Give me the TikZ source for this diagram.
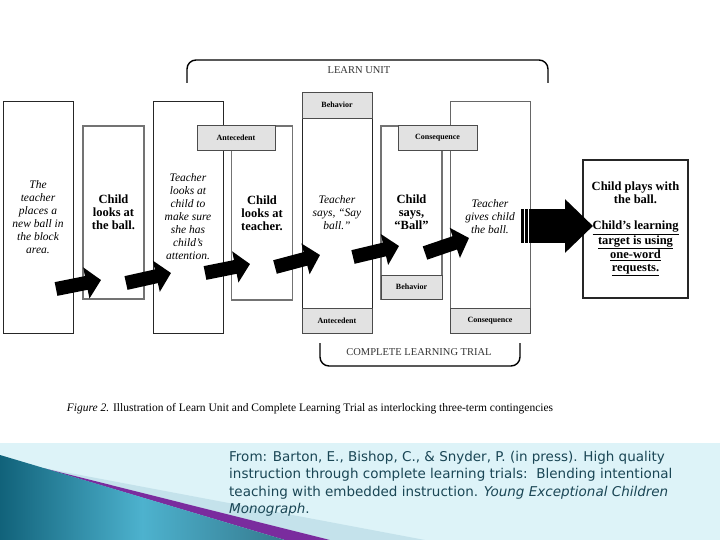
\documentclass[tikz,border=0pt]{standalone}
\usepackage{fontspec}
\setmainfont{Liberation Serif}
\newfontfamily\citefont{DejaVu Sans}
\usetikzlibrary{arrows.meta}
\definecolor{bandcyan}{HTML}{DDF3F8}
\definecolor{tealdark}{HTML}{11627A}
\definecolor{teallight}{HTML}{4DB2CE}
\definecolor{wedgeblue}{HTML}{C4E2EB}
\definecolor{stripepurple}{HTML}{7A2C9E}
\definecolor{labelgray}{HTML}{E2E2E2}
\definecolor{citeteal}{HTML}{1A4655}

\begin{document}
\begin{tikzpicture}[x=1pt, y=-1pt,
    teacherbox/.style={draw=black!85, line width=0.9pt, inner sep=0pt, align=center,
      font=\itshape\fontsize{11.5}{13}\selectfont},
    childbox/.style={draw=black!55, line width=1.1pt, inner sep=0pt, align=center,
      font=\bfseries\fontsize{12.5}{13}\selectfont},
    termlabel/.style={draw=black!70, fill=labelgray, line width=0.8pt, inner sep=0pt,
      font=\bfseries\fontsize{8}{9}\selectfont},
    blockarrow/.style={line width=14pt, -{Triangle[length=15pt, width=31pt]}},
    bracket/.style={line width=1.4pt, rounded corners=9pt},
    bracketlabel/.style={font=\fontsize{10.5}{12}\selectfont, text=black!80}
  ]
  \useasboundingbox (0,0) rectangle (720,540);
  % bottom band
  \fill[bandcyan] (0,443) rectangle (720,540);
  \fill[wedgeblue] (43,468) -- (425,540) -- (330,540) -- cycle;
  \fill[stripepurple] (43,468) -- (330,540) -- (285,540) -- cycle;
  \shade[left color=tealdark, right color=tealdark!85!white, middle color=teallight]
    (0,455) -- (285,540) -- (0,540) -- cycle;

  % boxes
  \node[teacherbox, minimum width=70pt, minimum height=232pt] (teacherPlaces) at (38,217)
    {The\\teacher\\places a\\new ball in\\the block\\area.};
  \node[childbox, minimum width=61pt, minimum height=173pt] (childBall) at (113.5,212.5)
    {Child\\looks at\\the ball.};
  \node[teacherbox, minimum width=70pt, minimum height=232pt] (teacherLooks) at (188,217)
    {Teacher\\looks at\\child to\\make sure\\she has\\child's\\attention.};
  \node[childbox, minimum width=61pt, minimum height=174pt] (childTeacher) at (262,213)
    {Child\\looks at\\teacher.};
  \node[teacherbox, minimum width=70pt, minimum height=241pt] (teacherSays) at (337,212.5)
    {Teacher\\says, ``Say\\ball.''};
  \node[childbox, minimum width=61pt, minimum height=173pt] (childSays) at (411.5,212.5)
    {Child\\says,\\``Ball''};
  \node[teacherbox, draw=black!60, minimum width=80pt, minimum height=232pt] (teacherGives) at (490,217)
    {Teacher\\gives child\\the ball.};
  \node[childbox, draw=black!85, line width=1.3pt, minimum width=105pt, minimum height=138pt] (childPlays) at (635.5,229)
    {Child plays with\\the ball.\\[13pt]\underline{Child's learning}\\\underline{target is using}\\
     \underline{one-word}\\\underline{requests.}};

  % term labels
  \node[termlabel, minimum width=78pt, minimum height=25pt] (antecedentTop) at (236,137.5) {Antecedent};
  \node[termlabel, minimum width=70pt, minimum height=26pt] (behaviorTop) at (337,105) {Behavior};
  \node[termlabel, minimum width=70pt, minimum height=25pt] (antecedentBottom) at (337,320.5) {Antecedent};
  \node[termlabel, minimum width=61pt, minimum height=24pt] (behaviorBottom) at (411.5,287) {Behavior};
  \node[termlabel, minimum width=79pt, minimum height=25pt] (consequenceTop) at (437.5,137.5) {Consequence};
  \node[termlabel, minimum width=80pt, minimum height=25pt] (consequenceBottom) at (490,320.5) {Consequence};

  % arrows between steps
  \coordinate (tailA) at (56,289);   \coordinate (tipA) at (101,280);
  \coordinate (tailB) at (126,283);  \coordinate (tipB) at (171,273);
  \coordinate (tailC) at (205,273);  \coordinate (tipC) at (250,264);
  \coordinate (tailD) at (275,267);  \coordinate (tipD) at (320,255);
  \coordinate (tailE) at (353,257);  \coordinate (tipE) at (399,246);
  \coordinate (tailF) at (425,253);  \coordinate (tipF) at (469,238);
  \draw[blockarrow] (tailA) -- (tipA);
  \draw[blockarrow] (tailB) -- (tipB);
  \draw[blockarrow] (tailC) -- (tipC);
  \draw[blockarrow] (tailD) -- (tipD);
  \draw[blockarrow] (tailE) -- (tipE);
  \draw[blockarrow] (tailF) -- (tipF);

  % big arrow to outcome
  \coordinate (bigTail) at (521,226);
  \coordinate (bigTip) at (593,226);
  \draw[line width=34pt, -{Triangle[length=28pt, width=52pt]}] (bigTail) -- (bigTip);
  \draw[white, line width=0.8pt] (524,209) -- (524,243);
  \draw[white, line width=0.8pt] (528,209) -- (528,243);

  % brackets
  \draw[bracket] (187,83) -- (187,60) -- (548,60) -- (548,83);
  \node[bracketlabel] (learnUnit) at (359,70) {LEARN UNIT};
  \draw[bracket] (320,343) -- (320,366) -- (520,366) -- (520,343);
  \node[bracketlabel] (trialLabel) at (419,352) {COMPLETE LEARNING TRIAL};

  % caption and source
  \node[font=\fontsize{11.5}{13}\selectfont] (caption) at (310,409)
    {\textit{Figure 2.} Illustration of Learn Unit and Complete Learning Trial as interlocking three-term contingencies};
  \node[anchor=north west, align=left, inner sep=0pt, text=citeteal,
    font=\citefont\fontsize{13.5}{17.3}\selectfont] (citation) at (229,451)
    {From: Barton, E., Bishop, C., \& Snyder, P. (in press). High quality\\
     instruction through complete learning trials:\ \ Blending intentional\\
     teaching with embedded instruction. \textit{Young Exceptional Children}\\
     \textit{Monograph}.};
\end{tikzpicture}
\end{document}
